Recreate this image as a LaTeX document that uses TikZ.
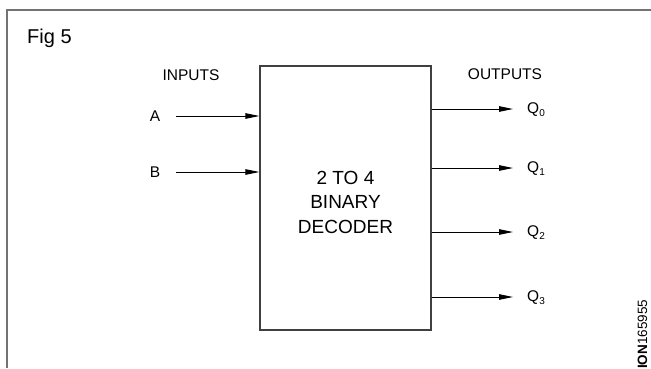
\documentclass[tikz,border=0pt]{standalone}
\usepackage{fontspec}
\setmainfont{Liberation Sans}
\usetikzlibrary{arrows.meta}
\begin{document}
\begin{tikzpicture}[x=1pt,y=1pt,
  frame/.style={draw=black!55, line width=1.4pt},
  blockbox/.style={draw=black!75, line width=1.2pt, minimum width=171pt, minimum height=264pt, inner sep=0pt},
  lbl/.style={inner sep=0pt, font=\fontsize{15.5}{17}\selectfont},
  boxtext/.style={inner sep=0pt, align=center, font=\fontsize{19}{24.5}\selectfont},
  sig/.style={line width=0.9pt, -{Triangle[length=14pt,width=5.5pt]}}]
\useasboundingbox (0,0) rectangle (651,-368);
\draw[frame] (7,-368) -- (7,-10) -- (651,-10);
\node[inner sep=0pt, anchor=base west, font=\fontsize{20}{22}\selectfont] (fig) at (27,-43) {Fig 5};

\node[blockbox] (dec) at (345.5,-198) {};
\node[boxtext] (dectext) at (345.5,-202) {2 TO 4\\BINARY\\DECODER};

\node[lbl, anchor=base] (inputs) at (191,-80) {INPUTS};
\node[lbl, anchor=base] (outputs) at (505,-79) {OUTPUTS};

\node[lbl] (la) at (155,-116) {A};
\node[lbl] (lb) at (155,-172) {B};
\coordinate (ain) at (176,-116);
\coordinate (bin) at (176,-172);
\draw[sig] (ain) -- (ain -| dec.west);
\draw[sig] (bin) -- (bin -| dec.west);

\foreach \i/\y in {0/109,1/168,2/232,3/297}{
  \coordinate (q\i e) at (513,-\y);
  \draw[sig] (dec.east |- q\i e) -- (q\i e);
  \node[lbl, anchor=west] (q\i) at (527,-\y-1) {Q\textsubscript{\fontsize{10}{11}\selectfont\i}};
}

\node[inner sep=0pt, rotate=90, anchor=base west, font=\fontsize{13.5}{15}\selectfont] (wm) at (647,-369) {\textbf{ION}165955};
\end{tikzpicture}
\end{document}
